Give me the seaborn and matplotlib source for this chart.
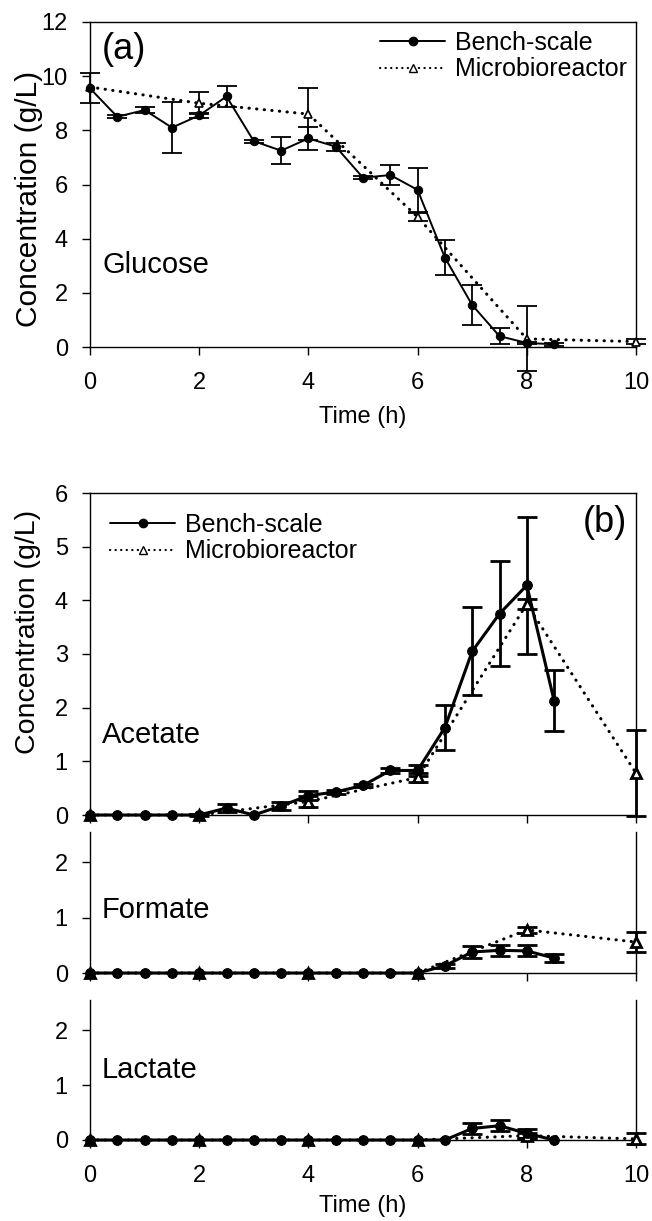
import numpy as np
import pandas as pd
import matplotlib
matplotlib.use("Agg")
import matplotlib.pyplot as plt
from matplotlib.lines import Line2D
import seaborn as sns

# ---------------- data ----------------
time_bench = [0, 0.5, 1, 1.5, 2, 2.5, 3, 3.5, 4, 4.5, 5, 5.5, 6, 6.5, 7, 7.5, 8, 8.5]
time_micro = [0, 2, 4, 6, 8, 10]

glucose_bench = [9.55, 8.5, 8.75, 8.1, 8.55, 9.25, 7.6, 7.25, 7.7, 7.4, 6.25, 6.35, 5.8, 3.3, 1.55, 0.4, 0.15, 0.1]
glucose_bench_err = [0.55, 0.05, 0.1, 0.95, 0.1, 0.37, 0.05, 0.5, 0.42, 0.15, 0.05, 0.37, 0.8, 0.65, 0.75, 0.3, 0.05, 0.05]
glucose_micro = [9.6, 9.0, 8.6, 4.8, 0.3, 0.2]
glucose_micro_err = [0.0, 0.4, 0.95, 0.15, 1.2, 0.1]

acetate_bench = [0, 0, 0, 0, 0, 0.13, 0.0, 0.17, 0.36, 0.43, 0.55, 0.83, 0.83, 1.63, 3.05, 3.75, 4.28, 2.13]
acetate_bench_err = [0, 0, 0, 0, 0, 0.07, 0, 0.08, 0.08, 0.03, 0.03, 0.04, 0.1, 0.42, 0.82, 0.98, 1.28, 0.57]
acetate_micro = [0, 0, 0.25, 0.7, 3.93, 0.78]
acetate_micro_err = [0, 0.02, 0.1, 0.08, 0.1, 0.8]

formate_bench = [0, 0, 0, 0, 0, 0, 0, 0, 0, 0, 0, 0, 0, 0.13, 0.38, 0.41, 0.40, 0.27]
formate_bench_err = [0, 0, 0, 0, 0, 0, 0, 0, 0, 0, 0, 0, 0, 0.04, 0.1, 0.1, 0.1, 0.08]
formate_micro = [0, 0, 0, 0, 0.78, 0.56]
formate_micro_err = [0, 0, 0, 0, 0.05, 0.18]

lactate_bench = [0, 0, 0, 0, 0, 0, 0, 0, 0, 0, 0, 0, 0, 0, 0.21, 0.26, 0.12, 0.0]
lactate_bench_err = [0, 0, 0, 0, 0, 0, 0, 0, 0, 0, 0, 0, 0, 0, 0.1, 0.1, 0.08, 0]
lactate_micro = [0, 0, 0, 0, 0.08, 0.02]
lactate_micro_err = [0, 0, 0, 0, 0.05, 0.1]

series_labels = ["Bench-scale", "Microbioreactor"]

# ---------------- style ----------------
sns.set_style("ticks")
plt.rcParams["font.family"] = ["Liberation Sans", "DejaVu Sans"]
plt.rcParams["axes.linewidth"] = 1.0
for k in ["text.color", "axes.labelcolor", "xtick.color", "ytick.color", "axes.edgecolor"]:
    plt.rcParams[k] = "black"

W, H = 652, 1221
fig = plt.figure(figsize=(W / 100, H / 100), dpi=100)

DOTS = (0, (0.1, 2.4))


def box(l, t, r, b):
    return [l / W, 1 - b / H, (r - l) / W, (b - t) / H]


ax_a = fig.add_axes(box(90, 22, 636, 347))
ax_ac = fig.add_axes(box(90, 493, 636, 815))
ax_fo = fig.add_axes(box(90, 832, 636, 973))
ax_la = fig.add_axes(box(90, 1000, 636, 1140))


def draw(ax, yb, eb, ym, em, lw, ms, elw, mlw, cap, mew):
    df_b = pd.DataFrame({"t": time_bench, "c": yb})
    df_m = pd.DataFrame({"t": time_micro, "c": ym})
    tb = np.array(time_bench); eb = np.array(eb); yb_a = np.array(yb)
    m = eb > 0
    ax.errorbar(tb[m], yb_a[m], yerr=eb[m], fmt="none", ecolor="black",
                elinewidth=elw, capsize=cap, capthick=elw, clip_on=False, zorder=2)
    tm = np.array(time_micro); em = np.array(em); ym_a = np.array(ym)
    m2 = em > 0
    ax.errorbar(tm[m2], ym_a[m2], yerr=em[m2], fmt="none", ecolor="black",
                elinewidth=elw, capsize=cap, capthick=elw, clip_on=False, zorder=2)
    sns.lineplot(data=df_m, x="t", y="c", ax=ax, color="black", lw=mlw,
                 linestyle=DOTS, dash_capstyle="round", marker="^", markersize=ms,
                 markerfacecolor="white", markeredgecolor="black",
                 markeredgewidth=mew, errorbar=None, clip_on=False, zorder=3)
    sns.lineplot(data=df_b, x="t", y="c", ax=ax, color="black", lw=lw,
                 marker="o", markersize=ms, markerfacecolor="black",
                 markeredgecolor="black", errorbar=None, clip_on=False, zorder=4)
    ax.set_xlim(0, 10)
    ax.set_xlabel("")
    ax.set_ylabel("")
    ax.set_xticks([0, 2, 4, 6, 8, 10])
    ax.tick_params(axis="both", direction="out", length=6, width=1,
                   labelsize=17, colors="black")
    ax.tick_params(axis="x", pad=12)
    ax.tick_params(axis="y", pad=10)


draw(ax_a, glucose_bench, glucose_bench_err, glucose_micro, glucose_micro_err,
     lw=1.4, ms=6, elw=1.3, mlw=2.2, cap=7, mew=1.2)
ax_a.set_ylim(0, 12)
ax_a.set_yticks(range(0, 13, 2))

draw(ax_ac, acetate_bench, acetate_bench_err, acetate_micro, acetate_micro_err,
     lw=2.2, ms=7, elw=2.0, mlw=2.2, cap=7, mew=2.0)
ax_ac.set_ylim(0, 6)
ax_ac.set_yticks(range(0, 7))
ax_ac.tick_params(axis="x", labelbottom=False)

for ax, yb, eb, ym, em in [(ax_fo, formate_bench, formate_bench_err, formate_micro, formate_micro_err),
                           (ax_la, lactate_bench, lactate_bench_err, lactate_micro, lactate_micro_err)]:
    draw(ax, yb, eb, ym, em, lw=2.2, ms=7, elw=2.0, mlw=2.2, cap=7, mew=2.0)
    ax.set_ylim(0, 2.55)
    ax.set_yticks([0, 1, 2])
    ax.spines["top"].set_visible(False)
ax_fo.tick_params(axis="x", labelbottom=False)

for ax in [ax_a, ax_ac, ax_fo, ax_la]:
    for s in ax.spines.values():
        s.set_color("black")

# legends
handles = [Line2D([], [], color="black", lw=1.4, marker="o", markersize=6),
           Line2D([], [], color="black", lw=1.6, linestyle=DOTS, dash_capstyle="round",
                  marker="^", markersize=6, markerfacecolor="white")]
ax_a.legend(handles, series_labels, loc="upper right", frameon=False, fontsize=18,
            handlelength=2.6, handletextpad=0.4, labelspacing=0.1,
            borderaxespad=0.15, borderpad=0.2)
ax_ac.legend(handles, series_labels, loc="upper left", frameon=False, fontsize=18,
             handlelength=2.6, handletextpad=0.4, labelspacing=0.1,
             borderaxespad=0.3, borderpad=0.5)

# annotations
ax_a.text(0.022, 0.914, "(a)", transform=ax_a.transAxes, fontsize=26, ha="left", va="center")
ax_a.text(0.022, 0.252, "Glucose", transform=ax_a.transAxes, fontsize=21, ha="left", va="center")
ax_ac.text(0.984, 0.907, "(b)", transform=ax_ac.transAxes, fontsize=26, ha="right", va="center")
ax_ac.text(0.022, 0.248, "Acetate", transform=ax_ac.transAxes, fontsize=21, ha="left", va="center")
ax_fo.text(0.022, 0.447, "Formate", transform=ax_fo.transAxes, fontsize=21, ha="left", va="center")
ax_la.text(0.022, 0.5, "Lactate", transform=ax_la.transAxes, fontsize=21, ha="left", va="center")

fig.text(29 / W, 1 - 199 / H, "Concentration (g/L)", rotation=90, fontsize=21.5, ha="center", va="center")
fig.text(28 / W, 1 - 632 / H, "Concentration (g/L)", rotation=90, fontsize=20.5, ha="center", va="center")
fig.text(363 / W, 1 - 417 / H, "Time (h)", fontsize=17, ha="center", va="center")
fig.text(363 / W, 1 - 1206 / H, "Time (h)", fontsize=17, ha="center", va="center")

fig.savefig("out.png", dpi=100, facecolor="white")
